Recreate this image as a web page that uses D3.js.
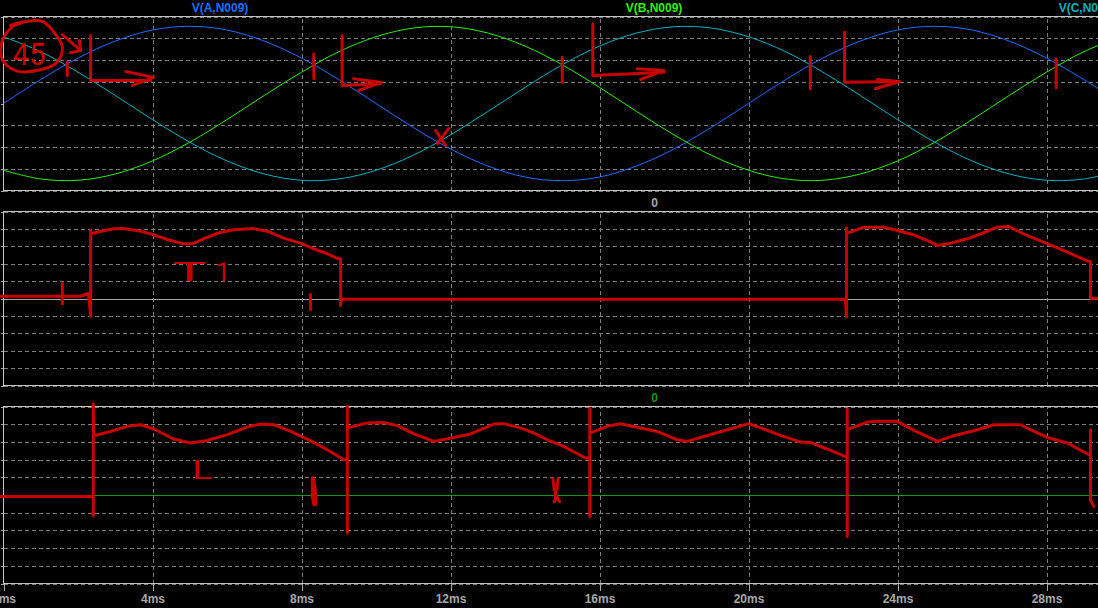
<!DOCTYPE html>
<html>
<head>
<meta charset="utf-8">
<title>Three phase - T1 / L</title>
<script src="https://d3js.org/d3.v7.min.js"></script>
<style>
    body { margin: 0; background: #000; overflow: hidden; }
    svg { display: block; }
    .grid line { stroke: #7c7c7c; stroke-dasharray: 4,3; shape-rendering: crispEdges; }
    .grid path, .ticks path, .xaxis path { display: none; }
    .ticks line, .xaxis line { stroke: #a8a8a8; shape-rendering: crispEdges; }
    .xaxis text { fill: #a8a8a8; font: bold 12px "Liberation Sans", Arial, sans-serif; }
    .frame { fill: none; stroke: #c4c4c4; shape-rendering: crispEdges; }
    .head { font: bold 12px "Liberation Sans", Arial, sans-serif; text-anchor: middle; }
    .red { fill: none; stroke: #c80000; stroke-width: 3; stroke-linejoin: round; stroke-linecap: round; }
    .hand { fill: #c80000; font-family: Roboto, "DejaVu Sans", sans-serif; font-weight: 400; }
</style>
</head>
<body>
<div id="plot"></div>
<script>
    // time axis (ms)
    var xTicks = [0, 4, 8, 12, 16, 20, 24, 28];
    var yTicksTop = [-400, -300, -200, -100, 0, 100, 200, 300, 400];
    var yTicksLow = [-500, -400, -300, -200, -100, 0, 100, 200, 300, 400, 500];

    // pane 1: phase voltages, read every 1 ms
    var timeMs = [0,1,2,3,4,5,6,7,8,9,10,11,12,13,14,15,16,17,18,19,20,21,22,23,24,25,26,27,28,29,30];
    var vA = [0,110,209,287,338,355,338,287,209,110,0,-110,-209,-287,-338,-355,-338,-287,-209,-110,0,110,209,287,338,355,338,287,209,110,0];
    var vB = [-307,-347,-353,-324,-264,-178,-74,37,144,238,307,347,353,324,264,178,74,-37,-144,-238,-307,-347,-353,-324,-264,-178,-74,37,144,238,307];
    var vC = [307,238,144,37,-74,-178,-264,-324,-353,-347,-307,-238,-144,-37,74,178,264,324,353,347,307,238,144,37,-74,-178,-264,-324,-353,-347,-307];
    var traceNames = ["V(A,N009)", "V(B,N009)", "V(C,N009)"];

    // pane 2: hand drawn T1 voltage [ms, value]
    var t1Trace = [[-0.08,13],[2.07,13],[2.28,30],[2.34,-103],[2.34,391],[2.34,372],[2.60,385],[2.95,401],[3.22,402],
        [3.68,387],[4.03,366],[4.40,339],[4.83,314],[5.07,314],[5.37,343],[5.74,375],[6.17,395],[6.71,402],[7.09,387],
        [7.52,347],[7.97,318],[8.32,286],[8.70,257],[8.99,228],[9.05,228],[9.05,-40],[9.07,-4],[22.60,-4],[22.63,-107],
        [22.63,406],[22.63,380],[22.74,381],[23.09,410],[23.62,410],[24.00,391],[24.43,366],[24.81,333],[25.07,305],
        [25.42,318],[25.88,343],[26.31,378],[26.68,410],[26.98,414],[27.38,372],[27.92,324],[28.56,266],[29.13,213],
        [29.18,213],[29.18,2],[29.40,2]];

    // pane 3: hand drawn L voltage [ms, value]
    var lTrace = [[-0.08,-8],[2.26,-8],[2.41,-8],[2.41,-117],[2.41,516],[2.42,335],[2.87,359],[3.32,388],[3.68,397],
        [4.04,373],[4.57,316],[5.02,294],[5.47,308],[6.01,341],[6.54,384],[6.90,401],[7.26,397],[7.71,359],[8.24,307],
        [8.69,256],[9.14,199],[9.23,199],[9.23,500],[9.23,-215],[9.23,379],[9.76,407],[10.21,410],[10.57,392],
        [11.02,345],[11.55,303],[12.09,325],[12.54,345],[13.16,401],[13.43,403],[13.88,379],[14.24,350],[14.60,312],
        [15.04,275],[15.62,209],[15.74,209],[15.74,488],[15.74,-121],[15.74,350],[16.21,388],[16.56,403],[17.10,379],
        [17.55,359],[18.09,312],[18.35,303],[18.71,325],[19.43,369],[20.01,403],[20.41,373],[20.86,337],[21.40,299],
        [21.66,297],[22.11,260],[22.65,212],[22.65,486],[22.65,-234],[22.65,369],[23.19,412],[23.46,416],[23.99,416],
        [24.44,365],[25.07,303],[25.51,335],[26.05,363],[26.59,397],[27.30,397],[27.57,369],[28.02,325],[28.56,294],
        [29.09,233],[29.18,225],[29.18,369],[29.18,-30],[29.27,-64]];

    // red pen marks [ms, value]
    var marksTop = [
        [[0.19,359],[0.46,372],[1.04,378],[1.35,328],[1.58,259],[1.44,190],[0.99,155],[0.37,149],[0.01,190],[-0.08,244],[0.01,305],[0.23,351],[0.55,374]],
        [[1.58,317],[2.07,244]], [[1.80,234],[2.07,244],[2.04,290]],
        [[1.71,190],[1.71,129]],
        [[2.34,313],[2.34,106],[3.95,106]], [[3.28,147],[4.03,120],[3.46,83]],
        [[8.33,229],[8.33,114]],
        [[9.09,313],[9.09,83],[10.12,91]], [[9.40,114],[10.15,97],[9.54,60]],
        [[11.60,-124],[11.87,-193]], [[11.95,-115],[11.65,-184]],
        [[15.00,213],[15.00,98]],
        [[15.82,366],[15.82,129],[17.73,144]], [[17.01,160],[17.73,152],[17.10,110]],
        [[21.66,216],[21.66,68]],
        [[22.58,328],[22.58,98],[24.05,101]], [[23.46,110],[24.05,101],[23.41,68]],
        [[28.26,206],[28.26,72]]
    ];
    var marksMid = [
        [[1.58,88],[1.58,-30]],
        [[8.24,23],[8.24,-63]]
    ];
    var marksLow = [
        [[8.29,98],[8.29,-10],[8.33,-55],[8.38,-55],[8.37,30],[8.33,92],[8.29,98]],
        [[14.75,92],[14.78,30],[14.86,30],[14.89,92]], [[14.82,30],[14.82,-27],[14.78,-38]], [[14.82,2],[14.93,-38]]
    ];
    var handText = [
        {pane: 0, t: 0.24, v: 175, text: "45"},
        {pane: 1, t: 4.54, v: 98, text: "T"},
        {pane: 1, t: 5.70, v: 98, text: "1"},
        {pane: 2, t: 5.07, v: 90, text: "L"}
    ];

    var width = 1098;
    var height = 608;
    var colors = ["#1e6eff", "#2cf000", "#00b2c0"];

    var svg = d3.select("#plot")
        .append("svg")
        .attr("width", width)
        .attr("height", height);

    svg.append("rect")
        .attr("width", width)
        .attr("height", height)
        .attr("fill", "#000");

    var xScale = d3.scaleLinear()
        .domain([0, 30])
        .range([3.5, 3.5 + 30 * 37.25]);

    var panes = [
        {top: 16.5, bottom: 190.5, domain: [-400, 400], ticks: yTicksTop},
        {top: 211.5, bottom: 385.5, domain: [-500, 500], ticks: yTicksLow},
        {top: 406.5, bottom: 583.5, domain: [-500, 500], ticks: yTicksLow}
    ];
    panes.forEach(function (p) {
        p.y = d3.scaleLinear().domain(p.domain).range([p.bottom, p.top]);
    });

    var plotRight = xScale.range()[1];

    panes.forEach(function (p, i) {
        var g = svg.append("g");
        // horizontal grid
        g.append("g")
            .attr("class", "grid")
            .attr("transform", "translate(" + xScale(0) + ",0)")
            .call(d3.axisLeft(p.y).tickValues(p.ticks.filter(function (d) { return d !== 0; }))
                .tickSize(-(plotRight - xScale(0))).tickFormat(""));
        // small outer ticks
        g.append("g")
            .attr("class", "ticks")
            .attr("transform", "translate(" + xScale(0) + ",0)")
            .call(d3.axisLeft(p.y).tickValues(p.ticks).tickSize(3).tickFormat(""));
        // vertical grid
        g.append("g")
            .attr("class", "grid")
            .attr("transform", "translate(0," + p.bottom + ")")
            .call(d3.axisBottom(xScale).tickValues(xTicks.slice(1))
                .tickSize(-(p.bottom - p.top)).tickFormat(""));
        g.append("rect")
            .attr("class", "frame")
            .attr("x", xScale(0))
            .attr("y", p.top)
            .attr("width", plotRight - xScale(0))
            .attr("height", p.bottom - p.top);
    });

    // time axis under the last pane
    svg.append("g")
        .attr("class", "xaxis")
        .attr("transform", "translate(0," + panes[2].bottom + ")")
        .call(d3.axisBottom(xScale).tickValues(xTicks).tickSize(7).tickPadding(4)
            .tickFormat(function (d) { return d + "ms"; }));

    // pane 1 traces
    var p0 = panes[0];
    var sineLine = function (vals) {
        return d3.line()
            .x(function (d, i) { return xScale(timeMs[i]); })
            .y(function (d) { return p0.y(d); })
            .curve(d3.curveCatmullRom)(vals);
    };
    [vA, vB, vC].forEach(function (vals, i) {
        svg.append("path")
            .attr("d", sineLine(vals))
            .attr("fill", "none")
            .attr("stroke", colors[i])
            .attr("stroke-width", 1);
    });
    var headX = [220, 654, 1087];
    traceNames.forEach(function (name, i) {
        svg.append("text")
            .attr("class", "head")
            .attr("x", headX[i])
            .attr("y", p0.top - 5)
            .attr("fill", colors[i])
            .text(name);
    });

    // "0" traces in panes 2 and 3
    var zeroColors = ["#a8a8a8", "#139613"];
    [panes[1], panes[2]].forEach(function (p, i) {
        svg.append("line")
            .attr("x1", xScale(0))
            .attr("x2", plotRight)
            .attr("y1", Math.round(p.y(0)) + 0.5)
            .attr("y2", Math.round(p.y(0)) + 0.5)
            .attr("stroke", zeroColors[i])
            .attr("stroke-width", 1);
        svg.append("text")
            .attr("class", "head")
            .attr("x", 654.5)
            .attr("y", p.top - 5)
            .attr("fill", zeroColors[i])
            .text("0");
    });

    // red pen traces
    function penLine(p) {
        return d3.line()
            .x(function (d) { return xScale(d[0]); })
            .y(function (d) { return p.y(d[1]); });
    }
    svg.append("path").attr("class", "red").attr("d", penLine(panes[1])(t1Trace));
    svg.append("path").attr("class", "red").attr("d", penLine(panes[2])(lTrace));

    [marksTop, marksMid, marksLow].forEach(function (strokes, i) {
        strokes.forEach(function (s, j) {
            var line = penLine(panes[i]);
            if (i === 0 && j === 0) {
                line.curve(d3.curveCatmullRom); // the circle round "45"
            }
            svg.append("path").attr("class", "red").attr("d", line(s));
        });
    });

    var textSize = {"45": 32, "T": 26, "1": 26, "L": 25};
    var textLen = {"45": 33, "T": 34, "L": 20};
    handText.forEach(function (h) {
        var t = svg.append("text")
            .attr("class", "hand")
            .attr("x", xScale(h.t))
            .attr("y", panes[h.pane].y(h.v))
            .attr("font-size", textSize[h.text])
            .text(h.text);
        if (textLen[h.text]) {
            t.attr("textLength", textLen[h.text]).attr("lengthAdjust", "spacingAndGlyphs");
        }
    });
</script>
</body>
</html>
